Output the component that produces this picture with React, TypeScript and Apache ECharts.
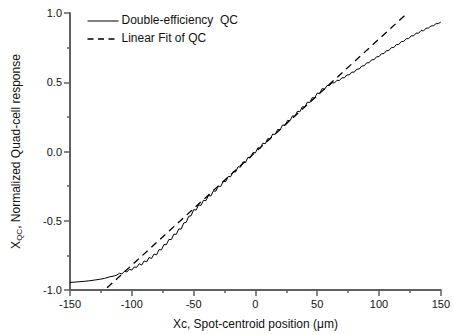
import React, { useEffect, useRef } from "react";
import * as echarts from "echarts";

const qcX: number[] = [
  -150, -146, -142, -138, -134, -130, -126, -122, -118, -114, -112,
  -110, -108, -106, -104, -102, -100, -98, -96, -94, -92, -90, -88, -86, -84, -82, -80,
  -78, -76, -74, -72, -70, -68, -66, -64, -62, -60, -58, -56, -54, -52, -50,
  -48, -46, -44, -42, -40, -38, -36, -34, -32, -30, -28, -26, -24, -22, -20,
  -18, -16, -14, -12, -10, -8, -6, -4, -2, 0, 2, 4, 6, 8, 10,
  12, 14, 16, 18, 20, 22, 24, 26, 28, 30, 32, 34, 36, 38, 40,
  42, 44, 46, 48, 50, 52, 54, 56, 58, 60, 62, 64, 66, 68, 70,
  72, 74, 76, 78, 80, 82, 84, 86, 88, 90, 92, 94, 96, 98, 100,
  102, 104, 106, 108, 110, 112, 114, 116, 118, 120, 122, 124, 126, 128, 130,
  132, 134, 136, 138, 140, 142, 144, 146, 148, 150,
];

const qcY: number[] = [
  -0.945, -0.943, -0.94, -0.937, -0.933, -0.928, -0.923, -0.916, -0.905, -0.898, -0.891,
  -0.879, -0.884, -0.865, -0.87, -0.851, -0.856, -0.834, -0.836, -0.81, -0.82, -0.79, -0.797, -0.765, -0.772, -0.74, -0.747,
  -0.709, -0.71, -0.672, -0.673, -0.635, -0.636, -0.597, -0.598, -0.559, -0.56, -0.516, -0.512, -0.468, -0.464, -0.42,
  -0.423, -0.386, -0.389, -0.352, -0.355, -0.318, -0.321, -0.284, -0.287, -0.25, -0.252, -0.215, -0.217, -0.18, -0.182,
  -0.145, -0.148, -0.11, -0.113, -0.076, -0.079, -0.042, -0.044, -0.007, -0.01, 0.027, 0.023, 0.06, 0.056, 0.093,
  0.09, 0.126, 0.123, 0.159, 0.156, 0.192, 0.189, 0.225, 0.222, 0.258, 0.254, 0.291, 0.287, 0.324, 0.32,
  0.356, 0.353, 0.389, 0.386, 0.422, 0.418, 0.454, 0.45, 0.476, 0.477, 0.496, 0.495, 0.514, 0.513, 0.532,
  0.532, 0.553, 0.553, 0.573, 0.573, 0.594, 0.596, 0.617, 0.619, 0.64, 0.641, 0.662, 0.663, 0.684, 0.685,
  0.706, 0.707, 0.728, 0.729, 0.75, 0.751, 0.772, 0.773, 0.794, 0.795, 0.815, 0.815, 0.835, 0.835, 0.855,
  0.854, 0.873, 0.872, 0.889, 0.892, 0.906, 0.908, 0.922, 0.924, 0.935,
];

const fitX: number[] = [-120, 123];
const fitY: number[] = [-0.984, 1.0];

const seriesNames: string[] = ["Double-efficiency  QC", "Linear Fit of QC"];

const FONT = "Arial, 'Liberation Sans', Helvetica, sans-serif";

export default function App() {
  const ref = useRef<HTMLDivElement>(null);
  useEffect(() => {
    if (!ref.current) return;
    const chart = echarts.init(ref.current, undefined, { renderer: "svg" });
    const axisCommon = {
      axisLine: { show: true, onZero: false, lineStyle: { color: "#606060", width: 2 } },
      axisTick: { show: true, inside: false, length: 6, lineStyle: { color: "#606060", width: 1.5 } },
      minorTick: { show: true, splitNumber: 2, length: 3, lineStyle: { color: "#606060", width: 1.5 } },
      splitLine: { show: false },
      minorSplitLine: { show: false },
      axisLabel: { color: "#111", fontSize: 11, fontFamily: FONT },
      nameTextStyle: { color: "#111", fontSize: 12, fontFamily: FONT },
    };
    const legendItem = (y: number, name: string, dashed: boolean) => ({
      type: "group",
      left: 85,
      top: y,
      children: [
        {
          type: "line",
          shape: { x1: 0, y1: 7, x2: 31, y2: 7 },
          style: { stroke: "#000", lineWidth: dashed ? 1.3 : 1, lineDash: dashed ? [6, 4.5] : null },
        },
        {
          type: "text",
          x: 34,
          y: 0,
          style: { text: name, fill: "#111", fontSize: 12, fontFamily: FONT },
        },
      ],
    });
    chart.setOption({
      animation: false,
      backgroundColor: "#fff",
      grid: { left: 70, right: 8, top: 13, bottom: 44, containLabel: false },
      graphic: [legendItem(14, seriesNames[0], false), legendItem(32, seriesNames[1], true)],
      xAxis: {
        type: "value",
        min: -150,
        max: 150,
        interval: 50,
        name: "Xc, Spot-centroid position (\u03bcm)",
        nameLocation: "middle",
        nameGap: 28,
        ...axisCommon,
        axisLabel: { ...axisCommon.axisLabel, margin: 8 },
      },
      yAxis: {
        type: "value",
        min: -1,
        max: 1,
        interval: 0.5,
        name: "X{sub|QC}, Normalized Quad-cell response",
        nameLocation: "middle",
        nameGap: 47,
        ...axisCommon,
        nameTextStyle: {
          color: "#111",
          fontSize: 12,
          fontFamily: FONT,
          rich: {
            sub: { fontSize: 8, verticalAlign: "bottom", padding: [6, 0, 0, 0], fontFamily: FONT, color: "#111" },
          },
        },
        axisLabel: {
          ...axisCommon.axisLabel,
          margin: 8,
          formatter: (v: number) => v.toFixed(1),
        },
      },
      series: [
        {
          name: seriesNames[0],
          type: "line",
          showSymbol: false,
          symbol: "none",
          data: qcX.map((x, i) => [x, qcY[i]]),
          lineStyle: { color: "#000", width: 1 },
          itemStyle: { color: "#000" },
        },
        {
          name: seriesNames[1],
          type: "line",
          showSymbol: false,
          symbol: "none",
          data: fitX.map((x, i) => [x, fitY[i]]),
          lineStyle: { color: "#000", width: 1.3, type: [7, 5] },
          itemStyle: { color: "#000" },
        },
      ],
    });
    return () => chart.dispose();
  }, []);
  return (
    <div
      ref={ref}
      style={{ position: "absolute", left: 0, top: 0, width: 453, height: 335 }}
    />
  );
}
